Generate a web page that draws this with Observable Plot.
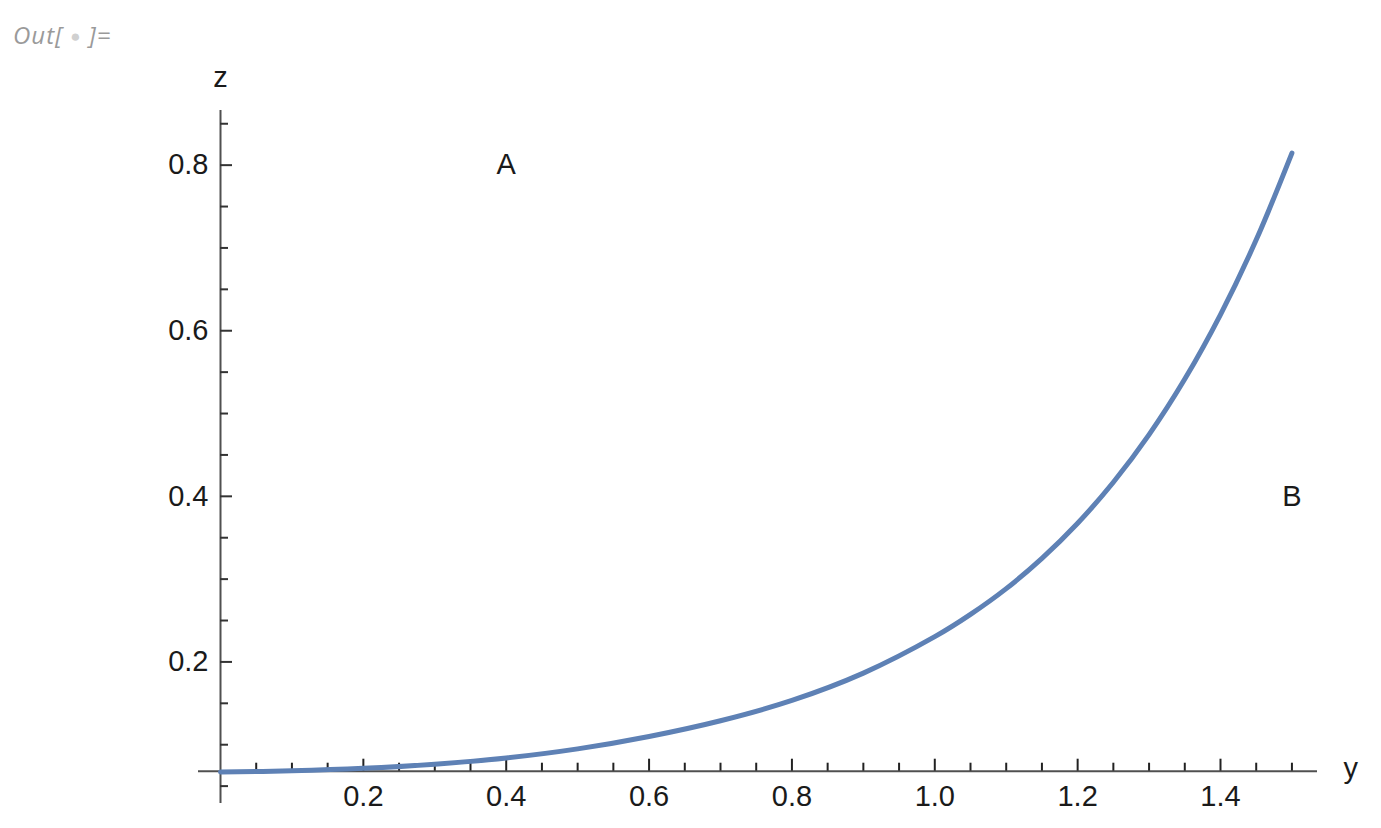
<!DOCTYPE html>
<html>
<head>
<meta charset="utf-8">
<script src="https://cdn.jsdelivr.net/npm/d3@7"></script>
<script src="https://cdn.jsdelivr.net/npm/@observablehq/plot@0.6"></script>
<style>
  html, body { margin: 0; padding: 0; background: #fff; }
  #wrap { position: relative; width: 1381px; height: 828px; }
  #out { position: absolute; left: 13px; top: 18px; font-family: "Open Sans", sans-serif; font-style: italic; font-size: 24px; color: #9a9a9a; letter-spacing: 1px; }
  #out .dot { color: #d0d0d0; font-size: 17px; font-style: normal; vertical-align: 2px; }
  #chart { position: absolute; left: 0; top: 0; }
</style>
</head>
<body>
<div id="wrap">
  <div id="chart"></div>
  <div id="out">Out[ <span class="dot">●</span> ]=</div>
</div>
<script>
// Curve samples (y → z)
const curveY = [0, 0.1, 0.2, 0.3, 0.4, 0.5, 0.6, 0.7, 0.8, 0.9, 1.0, 1.05, 1.1, 1.15, 1.2, 1.25, 1.3, 1.35, 1.4, 1.45, 1.5];
const curveZ = [0.067, 0.0685, 0.0715, 0.0765, 0.084, 0.095, 0.110, 0.129, 0.1535, 0.1865, 0.2305, 0.2574, 0.2885, 0.3251, 0.3675, 0.4170, 0.4745, 0.5416, 0.6195, 0.7098, 0.8145];

// Axis crossing (axes origin) and ticks
const axesOrigin = 0.068;
const xMajorTicks = [0.2, 0.4, 0.6, 0.8, 1.0, 1.2, 1.4];
const xMinorTicks = [0.05, 0.1, 0.15, 0.25, 0.3, 0.35, 0.45, 0.5, 0.55, 0.65, 0.7, 0.75, 0.85, 0.9, 0.95, 1.05, 1.1, 1.15, 1.25, 1.3, 1.35, 1.45, 1.5];
const zMajorTicks = [0.2, 0.4, 0.6, 0.8];
const zMinorTicks = [0.05, 0.1, 0.15, 0.25, 0.3, 0.35, 0.45, 0.5, 0.55, 0.65, 0.7, 0.75, 0.85];

// Text labels inside the plot
const labelText = ["A", "B"];
const labelY = [0.4, 1.5];
const labelZ = [0.8, 0.4];

const W = 1381, H = 828;
const mL = 198, mR = 64, mT = 110, mB = 25;
const xDomain = [-0.0308, 1.5358];
const zDomain = [0.029, 0.866];
const pxPerX = (W - mL - mR) / (xDomain[1] - xDomain[0]);
const pxPerZ = (H - mT - mB) / (zDomain[1] - zDomain[0]);

const curve = curveY.map((y, i) => ({y, z: curveZ[i]}));
const labels = labelText.map((t, i) => ({t, y: labelY[i], z: labelZ[i]}));

const axisColor = "#505050";
const textColor = "#1a1a1a";
const font = "Liberation Sans, Arial, sans-serif";
const fs = 29;

const chart = Plot.plot({
  width: W, height: H,
  marginLeft: mL, marginRight: mR, marginTop: mT, marginBottom: mB,
  style: {fontFamily: font, background: "transparent"},
  x: {domain: xDomain, axis: null},
  y: {domain: zDomain, axis: null},
  marks: [
    Plot.ruleY([axesOrigin], {stroke: axisColor, strokeWidth: 2}),
    Plot.ruleX([0], {stroke: axisColor, strokeWidth: 2}),
    Plot.ruleX(xMajorTicks, {x: d => d, y1: axesOrigin, y2: axesOrigin + 12 / pxPerZ, stroke: "#222", strokeWidth: 2}),
    Plot.ruleX(xMinorTicks, {x: d => d, y1: axesOrigin, y2: axesOrigin + 8 / pxPerZ, stroke: "#222", strokeWidth: 2}),
    Plot.ruleY(zMajorTicks, {y: d => d, x1: 0, x2: 12 / pxPerX, stroke: "#333", strokeWidth: 2}),
    Plot.ruleY(zMinorTicks, {y: d => d, x1: 0, x2: 8 / pxPerX, stroke: "#333", strokeWidth: 2}),
    Plot.text(xMajorTicks, {x: d => d, y: axesOrigin, dy: 26, text: d => d.toFixed(1), fontSize: fs, fill: textColor}),
    Plot.text(zMajorTicks, {x: 0, y: d => d, dx: -12, textAnchor: "end", text: d => d.toFixed(1), fontSize: fs, fill: textColor}),
    Plot.line(curve, {x: "y", y: "z", stroke: "#5E81B5", strokeWidth: 5, curve: "catmull-rom"}),
    Plot.text(labels, {x: "y", y: "z", text: "t", fontSize: fs, fill: textColor}),
    Plot.text(["z"], {x: 0, y: zDomain[1], dy: -33, text: d => d, fontSize: fs, fill: textColor}),
    Plot.text(["y"], {x: xDomain[1], y: axesOrigin, dx: 26, dy: -2, textAnchor: "start", text: d => d, fontSize: fs, fill: textColor})
  ]
});
document.getElementById("chart").appendChild(chart);
</script>
</body>
</html>
